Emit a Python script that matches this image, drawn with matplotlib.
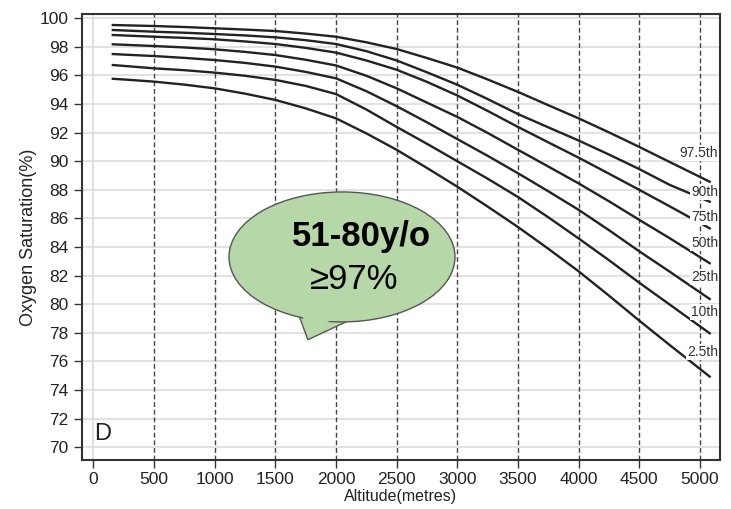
import numpy as np
import matplotlib.pyplot as plt
from matplotlib.patches import Ellipse, Polygon

# altitude (m) and oxygen saturation percentiles
altitude = [160, 250, 500, 750, 1000, 1250, 1500, 1750, 2000, 2250, 2500,
            2750, 3000, 3250, 3500, 3750, 4000, 4250, 4500, 4750, 5080]
p97_5 = [99.53, 99.51, 99.46, 99.39, 99.30, 99.21, 99.11, 98.93, 98.71, 98.32, 97.85,
         97.22, 96.55, 95.72, 94.85, 93.92, 93.00, 92.02, 91.00, 89.95, 88.57]
p90 = [99.18, 99.15, 99.06, 98.99, 98.90, 98.80, 98.67, 98.47, 98.20, 97.70, 97.05,
       96.22, 95.35, 94.35, 93.30, 92.37, 91.45, 90.47, 89.45, 88.35, 87.17]
p75 = [98.83, 98.80, 98.71, 98.63, 98.53, 98.38, 98.20, 97.93, 97.60, 97.05, 96.40,
       95.55, 94.60, 93.52, 92.40, 91.32, 90.25, 89.13, 88.00, 86.85, 85.31]
p50 = [98.18, 98.15, 98.06, 97.96, 97.83, 97.65, 97.43, 97.10, 96.70, 95.98, 95.10,
       94.10, 93.10, 91.98, 90.80, 89.63, 88.45, 87.20, 85.90, 84.62, 82.87]
p25 = [97.50, 97.46, 97.36, 97.23, 97.08, 96.88, 96.62, 96.25, 95.80, 94.90, 93.85,
       92.72, 91.55, 90.38, 89.16, 87.90, 86.60, 85.18, 83.70, 82.28, 80.37]
p10 = [96.73, 96.67, 96.50, 96.37, 96.20, 95.98, 95.69, 95.27, 94.70, 93.62, 92.40,
       91.22, 90.00, 88.78, 87.50, 86.08, 84.60, 83.08, 81.50, 79.98, 77.97]
p2_5 = [95.77, 95.72, 95.57, 95.36, 95.10, 94.73, 94.29, 93.70, 93.00, 91.95, 90.80,
        89.53, 88.22, 86.83, 85.40, 83.88, 82.30, 80.60, 78.85, 77.15, 74.94]

curves = [p97_5, p90, p75, p50, p25, p10, p2_5]
curve_labels = ['97.5th', '90th', '75th', '50th', '25th', '10th', '2.5th']
label_y = [90.58, 87.85, 86.1, 84.29, 81.91, 79.46, 76.67]

x_ticks = list(range(0, 5001, 500))
y_ticks = list(range(70, 101, 2))

plt.rcParams['font.family'] = ['Liberation Sans', 'DejaVu Sans']

fig = plt.figure(figsize=(7.31, 5.09), dpi=100)
ax = fig.add_axes([0.112, 0.0963, 0.873, 0.8762])

# grid: light horizontal lines, dashed verticals
for yv in y_ticks:
    ax.axhline(yv, color='#dddddd', lw=1.2, zorder=0)
ax.axvline(0, color='#dddddd', lw=1.2, zorder=0)
for xv in x_ticks[1:]:
    ax.axvline(xv, color='#444444', lw=1.0, ls=(0, (3.5, 2)), zorder=1)

for c in curves:
    ax.plot(altitude, c, color='#222222', lw=1.7, zorder=2, solid_joinstyle='round')

for lab, yl in zip(curve_labels, label_y):
    ax.text(5150, yl, lab, ha='right', va='center', fontsize=10, color='#333333',
            bbox=dict(facecolor='white', edgecolor='none', pad=0.6), zorder=4)

ax.text(8, 70.9, 'D', ha='left', va='center', fontsize=17, color='#222222')

# speech bubble
tail = [(1686, 79.4), (1768, 77.52), (2090, 78.8)]
ax.add_patch(Polygon(tail, closed=True, facecolor='#b6d7a8', edgecolor='#555555', lw=1.0, zorder=5))
ax.add_patch(Ellipse((2049, 83.31), 1863, 9.09, facecolor='#b6d7a8', edgecolor='#555555', lw=1.0, zorder=5))
tail_cover = [(1690, 79.9), (1768, 78.2), (2080, 79.3)]
ax.add_patch(Polygon(tail_cover, closed=True, facecolor='#b6d7a8', edgecolor='none', zorder=6))
ax.text(2210, 84.75, '51-80y/o', ha='center', va='center', fontsize=25, fontweight='bold', zorder=7)
ax.text(2148, 81.7, '\u226597%', ha='center', va='center', fontsize=25, zorder=7)

ax.set_xlim(-95, 5165)
ax.set_ylim(69.11, 100.3)
ax.set_xticks(x_ticks)
ax.set_yticks(y_ticks)
ax.tick_params(axis='both', labelsize=12.5, color='#333333', length=6, width=1, labelcolor='#222222')
ax.tick_params(axis='x', pad=3)
for s in ax.spines.values():
    s.set_color('#333333')
    s.set_linewidth(1.5)

ax.set_xlabel('Altitude(metres)', fontsize=11.5, color='#222222', labelpad=1)
ax.set_ylabel('Oxygen Saturation(%)', fontsize=13, color='#222222', labelpad=2)

fig.savefig('out.png', dpi=100)
